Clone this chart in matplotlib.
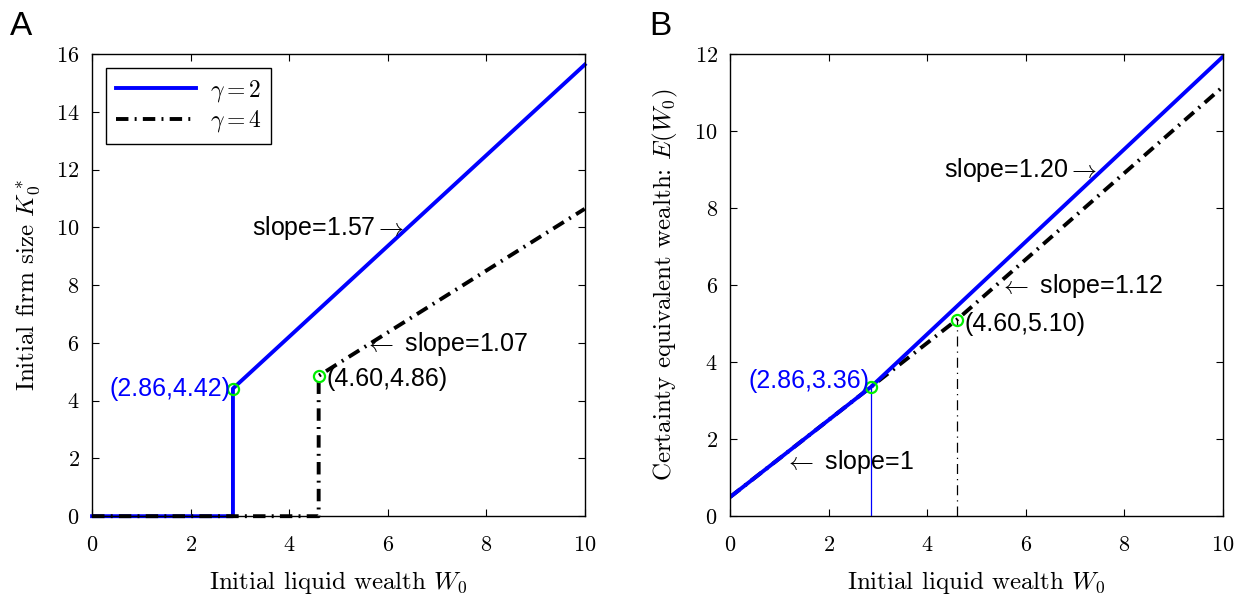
import numpy as np
import matplotlib
matplotlib.use("Agg")
import matplotlib.pyplot as plt

plt.rcParams['font.family'] = ['cmr10']
plt.rcParams['mathtext.fontset'] = 'cm'
plt.rcParams['axes.formatter.use_mathtext'] = True

# panel A: initial firm size K0*
wA_g2 = [0, 2.86, 2.86, 10]
kA_g2 = [0, 0, 4.42, 15.63]
wA_g4 = [0, 4.60, 4.60, 10]
kA_g4 = [0, 0, 4.86, 10.64]

# panel B: certainty equivalent wealth E(W0)
wB_g2 = [0, 2.86, 10]
eB_g2 = [0.50, 3.36, 11.93]
wB_g4 = [0, 4.60, 10]
eB_g4 = [0.50, 5.10, 11.15]

kinkA = [(2.86, 4.42), (4.60, 4.86)]
kinkB = [(2.86, 3.36), (4.60, 5.10)]

sans = 'Liberation Sans'
dashdot = (0, (3.2, 1.6, 0.5, 1.6))
fs_note = 18

fig = plt.figure(figsize=(12.44, 5.94), dpi=100)
axA = fig.add_axes([0.074, 0.131, 0.396, 0.778])
axB = fig.add_axes([0.587, 0.131, 0.396, 0.778])

# ---- A ----
axA.plot(wA_g2, kA_g2, color='#0000ff', lw=2.8, label=r'$\gamma = 2$', clip_on=False)
axA.plot(wA_g4, kA_g4, color='black', lw=2.8, ls=dashdot, label=r'$\gamma = 4$',
         clip_on=False)
for x, y in kinkA:
    axA.plot(x, y, 'o', mfc='none', mec='#00ee00', ms=8, mew=1.6)
axA.text(2.82, 4.42, '(2.86,4.42)', color='#0000ff', family=sans, fontsize=fs_note,
         ha='right', va='center')
axA.text(4.75, 4.75, '(4.60,4.86)', color='black', family=sans, fontsize=fs_note,
         ha='left', va='center')
axA.text(6.35, 9.97, r'slope=1.57$\rightarrow$', family=sans, fontsize=fs_note,
         ha='right', va='center')
axA.text(5.52, 5.95, r'$\leftarrow$ slope=1.07', family=sans, fontsize=fs_note,
         ha='left', va='center')
axA.set_xlim(0, 10)
axA.set_ylim(0, 16)
axA.set_xticks(np.arange(0, 11, 2))
axA.set_yticks(np.arange(0, 17, 2))
axA.set_xlabel(r'Initial liquid wealth $W_0$', fontsize=18, labelpad=10)
axA.set_ylabel(r'Initial firm size $K_0^*$', fontsize=18, labelpad=10)
leg = axA.legend(loc='upper left', fontsize=17, fancybox=False, edgecolor='black',
                 framealpha=1, handlelength=3.4, borderaxespad=0.6,
                 handletextpad=0.6, labelspacing=0.2)
leg.get_frame().set_linewidth(1.0)

# ---- B ----
axB.plot(wB_g4, eB_g4, color='black', lw=2.8, ls=dashdot)
axB.plot(wB_g2, eB_g2, color='#0000ff', lw=2.8)
axB.plot([2.86, 2.86], [0, 3.36], color='#0000ff', lw=0.9)
axB.plot([4.60, 4.60], [0, 5.10], color='black', lw=0.9, ls=(0, (8, 4, 1, 4)))
for x, y in kinkB:
    axB.plot(x, y, 'o', mfc='none', mec='#00ee00', ms=8, mew=1.6)
axB.text(2.82, 3.50, '(2.86,3.36)', color='#0000ff', family=sans, fontsize=fs_note,
         ha='right', va='center')
axB.text(4.75, 5.00, '(4.60,5.10)', color='black', family=sans, fontsize=fs_note,
         ha='left', va='center')
axB.text(7.44, 8.99, r'slope=1.20$\rightarrow$', family=sans, fontsize=fs_note,
         ha='right', va='center')
axB.text(5.45, 5.97, r'$\leftarrow$ slope=1.12', family=sans, fontsize=fs_note,
         ha='left', va='center')
axB.text(1.10, 1.42, r'$\leftarrow$ slope=1', family=sans, fontsize=fs_note,
         ha='left', va='center')
axB.set_xlim(0, 10)
axB.set_ylim(0, 12)
axB.set_xticks(np.arange(0, 11, 2))
axB.set_yticks(np.arange(0, 13, 2))
axB.set_xlabel(r'Initial liquid wealth $W_0$', fontsize=18, labelpad=10)
axB.set_ylabel(r'Certainty equivalent wealth: $E(W_0)$', fontsize=18, labelpad=10)

for ax in (axA, axB):
    ax.tick_params(direction='in', top=True, right=True, labelsize=16,
                   length=5, width=0.8)
    ax.tick_params(axis='x', pad=14)
    ax.tick_params(axis='y', pad=9)
    for s in ax.spines.values():
        s.set_linewidth(1.0)

fig.text(0.017, 0.955, 'A', family=sans, fontsize=24, ha='center', va='center')
fig.text(0.531, 0.955, 'B', family=sans, fontsize=24, ha='center', va='center')

fig.savefig('out.png', dpi=100)
